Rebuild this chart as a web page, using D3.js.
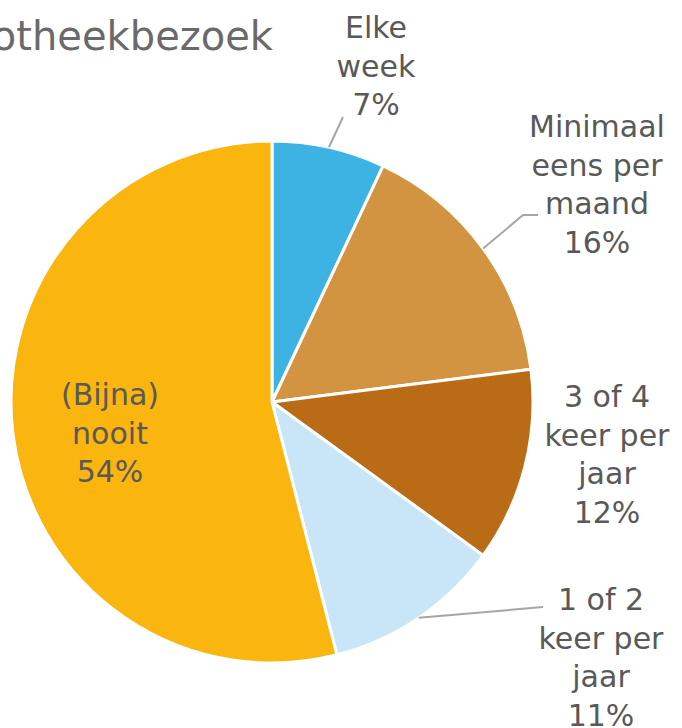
<html>
<head>
<script src="https://d3js.org/d3.v7.min.js"></script>
<style>
  body { margin: 0; background: #fff; }
  text { font-family: "DejaVu Sans", Verdana, sans-serif; }
</style>
</head>
<body>
<svg id="chart" width="682" height="728"></svg>
<script>
// data
var categories = ["Elke week", "Minimaal eens per maand", "3 of 4 keer per jaar", "1 of 2 keer per jaar", "(Bijna) nooit"];
var labelLines = [["Elke", "week"], ["Minimaal", "eens per", "maand"], ["3 of 4", "keer per", "jaar"], ["1 of 2", "keer per", "jaar"], ["(Bijna)", "nooit"]];
var percentages = [7, 16, 12, 11, 54];
var colors = ["#3db3e3", "#d39442", "#b96b16", "#c8e6f7", "#fab50f"];
var title = "Bibliotheekbezoek";

var cx = 272, cy = 402, radius = 261;
var svg = d3.select("#chart");

// title, cut off at the left edge as in the source
svg.append("text")
  .attr("x", 273)
  .attr("y", 50)
  .attr("text-anchor", "end")
  .attr("font-size", "40px")
  .attr("fill", "#6a6a6a")
  .text(title);

var pie = d3.pie().sort(null).value(function(d) { return d; });
var arcs = pie(percentages);
var arc = d3.arc().innerRadius(0).outerRadius(radius);

var g = svg.append("g").attr("transform", "translate(" + cx + "," + cy + ")");

g.selectAll("path")
  .data(arcs)
  .enter()
  .append("path")
  .attr("d", arc)
  .attr("fill", function(d, i) { return colors[i]; })
  .attr("stroke", "#fff")
  .attr("stroke-width", 3)
  .attr("stroke-linejoin", "round");

// label placement (x centre, first baseline), relative to the svg
var labelPos = [
  { x: 376, y: 38 },
  { x: 597, y: 137 },
  { x: 607, y: 407 },
  { x: 601, y: 610 },
  { x: 110, y: 405 }
];
var lineHeight = 38.5;

// leader lines: start on the rim at the slice middle angle
function rimPoint(d) {
  var a = (d.startAngle + d.endAngle) / 2;
  return [cx + radius * Math.sin(a), cy - radius * Math.cos(a)];
}
var leaders = [
  { i: 0, pts: [[343, 117]] },
  { i: 1, pts: [[523, 215], [538, 215]] },
  { i: 3, pts: [[543, 607]] }
];
leaders.forEach(function(l) {
  var pts = [rimPoint(arcs[l.i])].concat(l.pts);
  svg.append("path")
    .attr("d", d3.line()(pts))
    .attr("fill", "none")
    .attr("stroke", "#a6a6a6")
    .attr("stroke-width", 2);
});

labelPos.forEach(function(p, i) {
  var t = svg.append("text")
    .attr("text-anchor", "middle")
    .attr("font-size", "30px")
    .attr("fill", "#595959");
  var lines = labelLines[i].concat([percentages[i] + "%"]);
  lines.forEach(function(s, k) {
    t.append("tspan")
      .attr("x", p.x)
      .attr("y", p.y + k * lineHeight)
      .text(s);
  });
});
</script>
</body>
</html>
